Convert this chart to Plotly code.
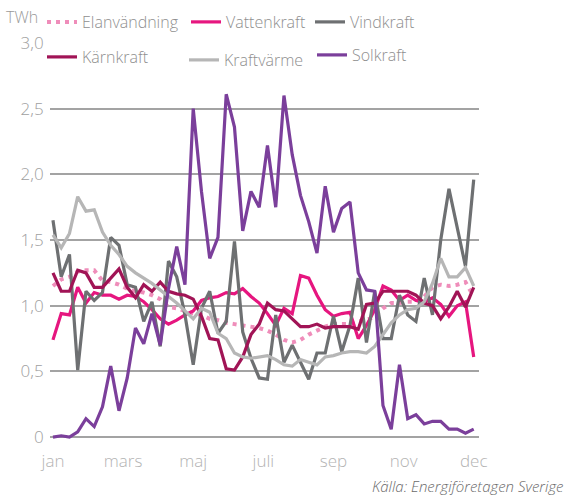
import plotly.graph_objects as go

weeks = list(range(52))

elanvandning = [1.15,1.20,1.22,1.26,1.27,1.27,1.19,1.18,1.16,1.13,1.11,1.10,1.08,1.05,0.99,0.98,0.96,0.94,0.93,0.90,0.89,0.87,0.86,0.85,0.84,0.83,0.81,0.78,0.74,0.72,0.74,0.78,0.81,0.84,0.86,0.86,0.86,0.88,0.89,0.92,0.98,1.02,1.02,1.03,1.03,1.07,1.14,1.16,1.15,1.16,1.18,1.07]
vattenkraft = [0.74,0.94,0.93,1.14,1.02,1.10,1.08,1.08,1.05,1.08,1.07,1.03,0.97,0.90,0.86,0.89,0.93,0.96,1.04,1.06,1.07,1.10,1.09,1.13,1.07,1.02,0.94,0.85,0.98,0.94,1.23,1.21,1.08,0.97,0.92,0.94,0.95,0.75,0.85,0.97,1.15,1.12,1.04,1.08,1.04,1.03,1.06,1.01,0.92,1.00,1.03,0.61]
vindkraft = [1.65,1.22,1.39,0.51,1.11,1.04,1.10,1.52,1.46,1.16,1.14,0.88,1.03,0.69,1.34,1.22,0.93,0.55,0.98,1.11,0.79,0.88,1.49,0.80,0.60,0.45,0.44,0.93,0.57,0.70,0.57,0.44,0.64,0.64,0.92,0.65,0.85,1.21,0.72,1.11,0.75,0.75,1.08,0.93,0.88,1.21,0.93,1.50,1.89,1.60,1.30,1.96]
karnkraft = [1.25,1.11,1.11,1.27,1.25,1.14,1.14,1.21,1.28,1.14,1.06,1.16,1.11,1.18,1.11,1.09,1.08,1.05,0.92,0.75,0.74,0.52,0.51,0.61,0.78,0.86,1.02,0.97,0.96,0.90,0.84,0.84,0.86,0.83,0.84,0.84,0.84,0.82,1.01,1.02,1.11,1.11,1.11,1.11,1.08,1.02,1.00,0.90,0.99,1.11,0.99,1.14]
kraftvarme = [1.54,1.44,1.55,1.83,1.72,1.73,1.56,1.46,1.39,1.30,1.25,1.21,1.17,1.12,1.07,1.02,0.96,0.90,0.98,0.95,0.79,0.75,0.64,0.61,0.60,0.61,0.62,0.59,0.55,0.54,0.59,0.57,0.55,0.61,0.62,0.64,0.65,0.65,0.64,0.69,0.78,0.87,0.93,0.97,0.98,1.03,1.17,1.36,1.22,1.22,1.29,1.15]
solkraft = [0.00,0.01,0.00,0.04,0.14,0.08,0.23,0.54,0.20,0.45,0.83,0.71,0.94,0.70,1.13,1.45,1.16,2.50,1.87,1.36,1.52,2.61,2.36,1.57,1.87,1.75,2.22,1.75,2.60,2.15,1.84,1.64,1.40,1.91,1.56,1.74,1.79,1.25,1.12,1.11,0.24,0.06,0.55,0.14,0.17,0.10,0.12,0.12,0.06,0.06,0.03,0.06]

month_pos = [0, 8.5, 17, 25.5, 34, 42.5, 51]
month_labels = ["jan", "mars", "maj", "juli", "sep", "nov", "dec"]
y_ticks = [0, 0.5, 1.0, 1.5, 2.0, 2.5, 3.0]
y_labels = ["0", "0,5", "1,0", "1,5", "2,0", "2,5", "3,0"]

FONT = "Open Sans"
WT = 300
W, H = 570, 497
ML, MR, MT, MB = 50, 91, 43, 56
PW, PH = W - ML - MR, H - MT - MB


def px2paper(px, py):
    return (px - ML) / PW, (H - MB - py) / PH


series = [
    ("Elanvändning", elanvandning, "#ef8dba", "4px,5px", "legend"),
    ("Vattenkraft", vattenkraft, "#e6167f", "solid", "legend2"),
    ("Vindkraft", vindkraft, "#6e7072", "solid", "legend3"),
    ("Kärnkraft", karnkraft, "#a11456", "solid", "legend4"),
    ("Kraftvärme", kraftvarme, "#b6b6b6", "solid", "legend5"),
    ("Solkraft", solkraft, "#7b3f9b", "solid", "legend6"),
]

fig = go.Figure()
for name, vals, col, dash, lg in series:
    fig.add_trace(go.Scatter(
        x=weeks, y=vals, mode="lines", name=name, legend=lg,
        line=dict(color=col, width=3.2 if dash == "solid" else 4, dash=dash),
        hoverinfo="skip",
    ))

leg_pos = {
    "legend": (42, 5),
    "legend2": (186, 5),
    "legend3": (310, 5),
    "legend4": (42, 40),
    "legend5": (184, 43),
    "legend6": (312, 38),
}
legend_layout = {}
for key, (px, py) in leg_pos.items():
    lx, ly = px2paper(px, py)
    legend_layout[key] = dict(
        x=lx, y=ly, xanchor="left", yanchor="top", bgcolor="rgba(0,0,0,0)",
        font=dict(family=FONT, size=16, color="#8f8f8f", weight=WT),
        borderwidth=0,
    )

tx, ty = px2paper(4, 4)
sx, sy = px2paper(566, 474)

fig.update_layout(
    width=W, height=H,
    margin=dict(l=ML, r=MR, t=MT, b=MB, autoexpand=False),
    paper_bgcolor="white", plot_bgcolor="white",
    font=dict(family=FONT, color="#9a9a9a", weight=WT),
    showlegend=True,
    **legend_layout,
    xaxis=dict(
        range=[-0.36, 51.64], tickvals=month_pos, ticktext=month_labels,
        showgrid=False, zeroline=False, showline=False,
        ticks="outside", ticklen=5, tickcolor="rgba(0,0,0,0)",
        tickfont=dict(family=FONT, size=17, color="#b3b3b3", weight=WT),
    ),
    yaxis=dict(
        range=[-0.03, 3.0], tickvals=y_ticks, ticktext=y_labels,
        showgrid=True, gridcolor="#a3a3a3", gridwidth=1.6,
        zeroline=False, showline=False,
        ticks="outside", ticklen=2, tickcolor="rgba(0,0,0,0)",
        tickfont=dict(family=FONT, size=17, color="#a0a0a0", weight=WT),
    ),
    annotations=[
        dict(text="TWh", x=tx, y=ty, xref="paper", yref="paper",
             showarrow=False, xanchor="left", yanchor="top",
             font=dict(family=FONT, size=16, color="#9a9a9a", weight=WT)),
        dict(text="<i>Källa: Energiföretagen Sverige</i>", x=sx, y=sy,
             xref="paper", yref="paper", showarrow=False, xanchor="right", yanchor="top",
             font=dict(family=FONT, size=15, color="#6a6a6a", weight=WT)),
    ],
)

fig.write_html("out.html", config={"displayModeBar": False},
               post_script="document.body.style.margin='0';")
